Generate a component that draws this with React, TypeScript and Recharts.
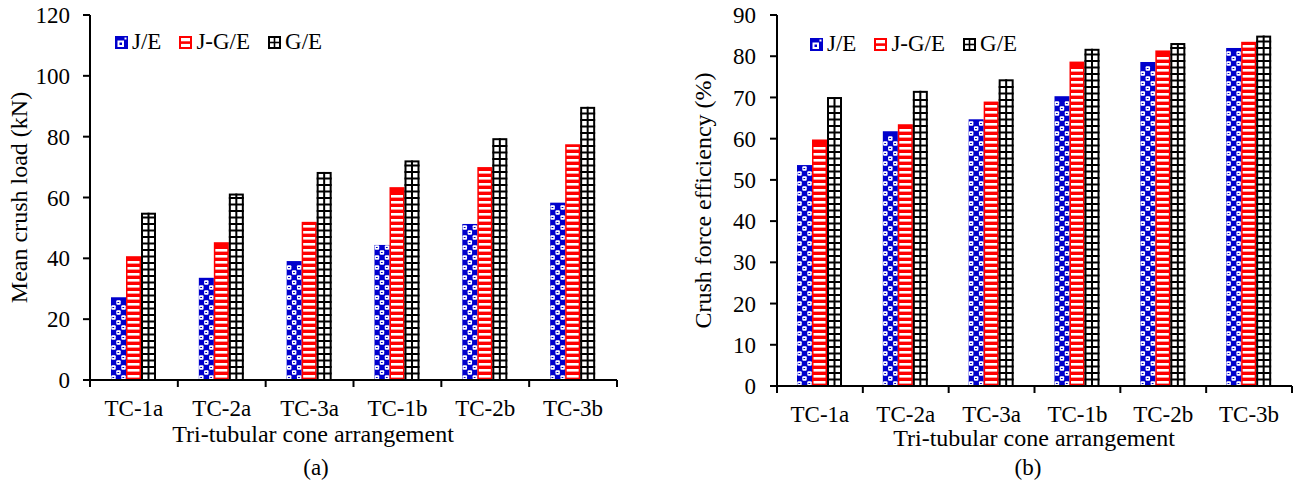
import React from "react";
import { Bar, BarChart, Legend, XAxis, YAxis } from "recharts";

const categories = ["TC-1a", "TC-2a", "TC-3a", "TC-1b", "TC-2b", "TC-3b"];
const seriesNames = ["J/E", "J-G/E", "G/E"];
const seriesKeys = ["je", "jge", "ge"];

// (a) mean crush load, kN
const loadJE = [27.2, 33.6, 39.1, 44.4, 51.3, 58.3];
const loadJGE = [40.7, 45.3, 52.0, 63.4, 70.0, 77.5];
const loadGE = [55.0, 61.3, 68.4, 72.2, 79.5, 89.8];
const loadTicks = [0, 20, 40, 60, 80, 100, 120];

// (b) crush force efficiency, %
const effJE = [53.6, 61.8, 64.7, 70.3, 78.6, 82.0];
const effJGE = [59.8, 63.5, 69.0, 78.7, 81.4, 83.5];
const effGE = [70.1, 71.6, 74.4, 81.8, 83.2, 85.0];
const effTicks = [0, 10, 20, 30, 40, 50, 60, 70, 80, 90];

const FONT = '"Liberation Serif", "Times New Roman", serif';
const BLUE = "#0000CC";
const RED = "#FF0000";
const FS = 23;
const TITLE_FS = 24;

const loadData = categories.map((c, i) => ({
  category: c,
  je: loadJE[i],
  jge: loadJGE[i],
  ge: loadGE[i],
}));
const effData = categories.map((c, i) => ({
  category: c,
  je: effJE[i],
  jge: effJGE[i],
  ge: effGE[i],
}));

function DotBar(props: any) {
  const { x, y, width, height } = props;
  if (!(height > 0)) return null;
  const cell = width / 3;
  const rows = Math.floor(height / cell);
  const marks: React.ReactNode[] = [];
  for (let r = 0; r < rows; r++) {
    for (let c = 0; c < 3; c++) {
      if ((r + c) % 2) continue;
      const cx = x + c * cell;
      const cy = y + height - (r + 1) * cell;
      marks.push(
        <rect key={`w${r}-${c}`} x={cx + 0.3} y={cy + 0.3} width={cell - 0.6} height={cell - 0.6} rx={1} fill="#fff" />
      );
      marks.push(
        <rect key={`b${r}-${c}`} x={cx + 1.4} y={cy + 2} width={1.8} height={1} fill={BLUE} />
      );
    }
  }
  return (
    <g>
      <rect x={x} y={y} width={width} height={height} fill={BLUE} />
      {marks}
    </g>
  );
}

function StripeBar(props: any) {
  const { x, y, width, height } = props;
  if (!(height > 0)) return null;
  const stripes: React.ReactNode[] = [];
  for (let yy = y + height - 5; yy > y + 2; yy -= 6) {
    stripes.push(<rect key={yy} x={x + 1.5} y={yy} width={width - 3} height={2.6} fill="#fff" />);
  }
  return (
    <g>
      <rect x={x} y={y} width={width} height={height} fill={RED} />
      {stripes}
    </g>
  );
}

function GridBar(props: any) {
  const { x, y, width, height } = props;
  if (!(height > 0)) return null;
  const lines: React.ReactNode[] = [];
  for (let yy = y + height - 6.5; yy > y + 3; yy -= 6.5) {
    lines.push(<line key={yy} x1={x} x2={x + width} y1={yy} y2={yy} stroke="#000" strokeWidth={2} />);
  }
  return (
    <g>
      <rect x={x + 1} y={y + 1} width={width - 2} height={height - 1} fill="#fff" stroke="#000" strokeWidth={2} />
      <line x1={x + width / 2} x2={x + width / 2} y1={y} y2={y + height} stroke="#000" strokeWidth={2} />
      {lines}
    </g>
  );
}

function LegendIcon({ kind }: { kind: string }) {
  if (kind === "je") {
    return (
      <svg width={13} height={13}>
        <rect x={0} y={0} width={13} height={13} fill={BLUE} />
        <rect x={2.5} y={4.5} width={6.5} height={6.5} fill="#fff" />
        <rect x={4.5} y={6.5} width={2.5} height={2.5} fill={BLUE} />
        <rect x={9.5} y={1.5} width={2} height={2} fill="#fff" />
      </svg>
    );
  }
  if (kind === "jge") {
    return (
      <svg width={13} height={13}>
        <rect x={1} y={1} width={11} height={11} fill="#fff" stroke={RED} strokeWidth={2} />
        <rect x={1} y={5.3} width={11} height={2.6} fill={RED} />
      </svg>
    );
  }
  return (
    <svg width={13} height={13}>
      <rect x={1} y={1} width={11} height={11} fill="#fff" stroke="#000" strokeWidth={2} />
      <line x1={6.5} x2={6.5} y1={1} y2={12} stroke="#000" strokeWidth={1.6} />
      <line x1={1} x2={12} y1={6.5} y2={6.5} stroke="#000" strokeWidth={1.6} />
    </svg>
  );
}

function LegendContent({ payload }: any) {
  const items = [...(payload || [])].sort(
    (a: any, b: any) => seriesKeys.indexOf(a.dataKey) - seriesKeys.indexOf(b.dataKey)
  );
  return (
    <div
      style={{
        display: "flex",
        alignItems: "center",
        fontFamily: FONT,
        fontSize: FS,
        lineHeight: "24px",
        color: "#000",
        whiteSpace: "nowrap",
      }}
    >
      {items.map((p: any, i: number) => (
        <div key={i} style={{ display: "flex", alignItems: "center", marginRight: 18 }}>
          <LegendIcon kind={p.dataKey} />
          <span style={{ marginLeft: 4 }}>{p.value}</span>
        </div>
      ))}
    </div>
  );
}

function makeXTick(plotBottom: number, band: number) {
  return function XTick(props: any) {
    const { x, payload, index } = props;
    const left = x - band / 2;
    return (
      <g>
        <line x1={left} x2={left} y1={plotBottom} y2={plotBottom + 7} stroke="#000" strokeWidth={2} />
        {index === categories.length - 1 && (
          <line x1={x + band / 2} x2={x + band / 2} y1={plotBottom} y2={plotBottom + 7} stroke="#000" strokeWidth={2} />
        )}
        <text x={x} y={plotBottom + 19.5} dy="0.71em" textAnchor="middle" fontSize={FS} fontFamily={FONT} fill="#000">
          {payload.value}
        </text>
      </g>
    );
  };
}

function YTitle({ text, titleCx, titleCy }: { text: string; titleCx: number; titleCy: number }) {
  return (
    <text
      x={titleCx}
      y={titleCy}
      dy="0.35em"
      textAnchor="middle"
      transform={`rotate(-90, ${titleCx}, ${titleCy})`}
      fontSize={TITLE_FS}
      fontFamily={FONT}
      fill="#000"
    >
      {text}
    </text>
  );
}

function XTitle({
  titleCx,
  titleBase,
  caption,
  captionCx,
}: {
  titleCx: number;
  titleBase: number;
  caption: string;
  captionCx: number;
}) {
  return (
    <g>
      <text x={titleCx} y={titleBase} textAnchor="middle" fontSize={TITLE_FS} fontFamily={FONT} fill="#000">
        Tri-tubular cone arrangement
      </text>
      <text x={captionCx} y={475} textAnchor="middle" fontSize={FS} fontFamily={FONT} fill="#000">
        {caption}
      </text>
    </g>
  );
}

interface IPanelProps {
  readonly data: { category: string; je: number; jge: number; ge: number }[];
  readonly width: number;
  readonly yAxisWidth: number;
  readonly rightMargin: number;
  readonly plotBottom: number;
  readonly domainMax: number;
  readonly ticks: number[];
  readonly tickMargin: number;
  readonly yTitle: string;
  readonly yTitleX: number;
  readonly xTitleX: number;
  readonly xTitleY: number;
  readonly caption: string;
  readonly captionX: number;
  readonly legendLeft: number;
  readonly legendTop: number;
}

function Panel(p: IPanelProps) {
  const H = 488;
  const top = 15;
  const plotW = p.width - p.yAxisWidth - p.rightMargin;
  const band = plotW / categories.length;
  const axisStyle = { stroke: "#000", strokeWidth: 2 };
  return (
    <BarChart
      width={p.width}
      height={H}
      data={p.data}
      margin={{ top, right: p.rightMargin, left: 0, bottom: 0 }}
      barGap={0}
      barSize={15}
    >
      <XAxis
        dataKey="category"
        height={H - p.plotBottom}
        interval={0}
        axisLine={axisStyle}
        tickLine={false}
        tick={makeXTick(p.plotBottom, band)}
        label={<XTitle titleCx={p.xTitleX} titleBase={p.xTitleY} caption={p.caption} captionCx={p.captionX} />}
      />
      <XAxis xAxisId="top" orientation="top" dataKey="category" height={0} axisLine={axisStyle} tick={false} tickLine={false} />
      <YAxis
        width={p.yAxisWidth}
        domain={[0, p.domainMax]}
        ticks={p.ticks}
        interval={0}
        axisLine={axisStyle}
        tickLine={axisStyle}
        tickSize={7}
        tickMargin={p.tickMargin}
        tick={{ fill: "#000", fontSize: FS, fontFamily: FONT }}
        label={<YTitle text={p.yTitle} titleCx={p.yTitleX} titleCy={(top + p.plotBottom) / 2} />}
      />
      <YAxis yAxisId="right" orientation="right" width={0} domain={[0, 1]} axisLine={axisStyle} tick={false} tickLine={false} />
      <Legend
        layout="horizontal"
        verticalAlign="middle"
        align="center"
        content={<LegendContent />}
        wrapperStyle={{ left: p.legendLeft, top: p.legendTop, width: "auto", height: "auto" }}
      />
      <Bar dataKey="je" name={seriesNames[0]} fill={BLUE} shape={<DotBar />} isAnimationActive={false} />
      <Bar dataKey="jge" name={seriesNames[1]} fill={RED} shape={<StripeBar />} isAnimationActive={false} />
      <Bar dataKey="ge" name={seriesNames[2]} fill="#000" shape={<GridBar />} isAnimationActive={false} />
    </BarChart>
  );
}

export default function App() {
  return (
    <div
      style={{
        position: "absolute",
        left: 0,
        top: 0,
        width: 1296,
        height: 488,
        background: "#fff",
        display: "flex",
      }}
    >
      <Panel
        data={loadData}
        width={640}
        yAxisWidth={90}
        rightMargin={23}
        plotBottom={380}
        domainMax={120}
        ticks={loadTicks}
        tickMargin={13}
        yTitle="Mean crush load (kN)"
        yTitleX={19}
        xTitleX={313}
        xTitleY={442}
        caption="(a)"
        captionX={316}
        legendLeft={115}
        legendTop={30}
      />
      <Panel
        data={effData}
        width={656}
        yAxisWidth={137}
        rightMargin={4}
        plotBottom={386}
        domainMax={90}
        ticks={effTicks}
        tickMargin={14}
        yTitle="Crush force efficiency (%)"
        yTitleX={63}
        xTitleX={394}
        xTitleY={446}
        caption="(b)"
        captionX={388}
        legendLeft={170}
        legendTop={32}
      />
    </div>
  );
}
